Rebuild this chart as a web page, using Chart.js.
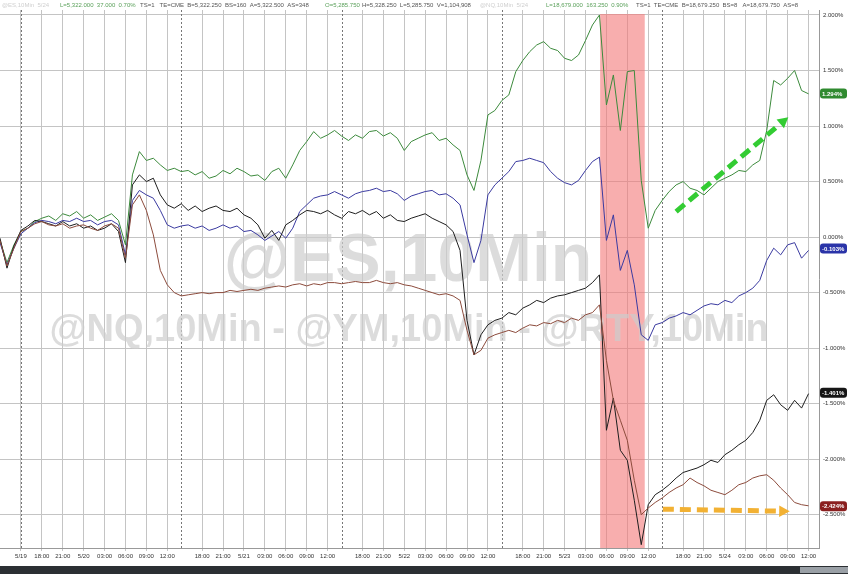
<!DOCTYPE html>
<html>
<head>
<meta charset="utf-8">
<script src="https://cdn.jsdelivr.net/npm/chart.js@4.4.1/dist/chart.umd.min.js"></script>
<style>
  html, body { margin: 0; padding: 0; background: #fff; }
  #wrap { width: 848px; height: 574px; }
</style>
</head>
<body>
<div id="wrap"><canvas id="futChart" width="848" height="574"></canvas></div>
<script>
/* --------------- Data (percent change, sampled hourly) --------------- */
const hours = Array.from({ length: 117 }, (_, i) => i);

const nqValues = [
  -0.03, -0.23, -0.07, 0.05, 0.08, 0.14, 0.17, 0.19, 0.15, 0.21, 0.19, 0.23, 0.17, 0.20, 0.15, 0.18, 0.21, 0.15, -0.07, 0.56,
  0.77, 0.69, 0.71, 0.65, 0.60, 0.62, 0.59, 0.60, 0.56, 0.59, 0.53, 0.55, 0.60, 0.57, 0.62, 0.59, 0.55, 0.56, 0.51, 0.59,
  0.62, 0.53, 0.65, 0.78, 0.86, 0.95, 0.89, 0.92, 0.96, 0.91, 0.87, 0.92, 0.89, 0.95, 0.96, 0.91, 0.94, 0.89, 0.78, 0.86,
  0.89, 0.92, 0.94, 0.87, 0.89, 0.83, 0.78, 0.56, 0.42, 0.69, 1.10, 1.14, 1.23, 1.28, 1.49, 1.59, 1.67, 1.73, 1.76, 1.70,
  1.68, 1.61, 1.59, 1.64, 1.77, 1.91, 2.00, 1.19, 1.46, 0.96, 1.49, 1.50, 0.51, 0.08, 0.24, 0.33, 0.41, 0.47, 0.50, 0.44,
  0.42, 0.38, 0.44, 0.50, 0.53, 0.56, 0.60, 0.59, 0.65, 0.69, 0.96, 1.41, 1.37, 1.43, 1.50, 1.32, 1.29
];
const esValues = [
  -0.05, -0.25, -0.10, 0.03, 0.08, 0.13, 0.15, 0.14, 0.12, 0.15, 0.14, 0.17, 0.14, 0.15, 0.11, 0.14, 0.15, 0.11, -0.16, 0.33,
  0.42, 0.38, 0.35, 0.24, 0.11, 0.08, 0.10, 0.11, 0.08, 0.10, 0.06, 0.08, 0.11, 0.08, 0.10, 0.05, 0.06, 0.02, -0.03, 0.01,
  0.05, -0.01, 0.08, 0.23, 0.29, 0.35, 0.37, 0.38, 0.41, 0.38, 0.35, 0.39, 0.41, 0.42, 0.44, 0.41, 0.42, 0.39, 0.33, 0.37,
  0.39, 0.41, 0.42, 0.38, 0.39, 0.35, 0.29, 0.02, -0.23, -0.03, 0.38, 0.47, 0.53, 0.59, 0.68, 0.69, 0.71, 0.69, 0.67, 0.59,
  0.53, 0.49, 0.47, 0.51, 0.60, 0.68, 0.72, -0.03, 0.20, -0.30, -0.12, -0.43, -0.88, -0.93, -0.79, -0.77, -0.73, -0.71, -0.68, -0.70,
  -0.66, -0.62, -0.60, -0.61, -0.57, -0.59, -0.53, -0.50, -0.46, -0.39, -0.21, -0.10, -0.16, -0.07, -0.05, -0.19, -0.12
];
const ymValues = [
  -0.01, -0.28, -0.08, 0.06, 0.10, 0.15, 0.14, 0.12, 0.10, 0.14, 0.10, 0.12, 0.08, 0.10, 0.06, 0.08, 0.12, 0.05, -0.23, 0.47,
  0.56, 0.50, 0.53, 0.38, 0.29, 0.26, 0.30, 0.24, 0.28, 0.23, 0.26, 0.28, 0.24, 0.23, 0.26, 0.20, 0.17, 0.11, -0.01, 0.06,
  -0.03, 0.11, 0.15, 0.20, 0.24, 0.23, 0.21, 0.24, 0.20, 0.17, 0.23, 0.21, 0.24, 0.20, 0.23, 0.17, 0.20, 0.15, 0.14, 0.17,
  0.19, 0.21, 0.17, 0.14, 0.11, 0.05, -0.12, -0.75, -1.06, -0.88, -0.79, -0.75, -0.73, -0.68, -0.70, -0.64, -0.61, -0.57, -0.59, -0.55,
  -0.53, -0.52, -0.50, -0.48, -0.46, -0.41, -0.34, -1.74, -1.45, -1.92, -2.01, -2.37, -2.77, -2.41, -2.32, -2.28, -2.23, -2.17, -2.12, -2.10,
  -2.08, -2.05, -2.01, -2.03, -1.96, -1.92, -1.87, -1.83, -1.76, -1.65, -1.47, -1.42, -1.51, -1.56, -1.47, -1.54, -1.41
];
const rtyValues = [
  -0.03, -0.26, -0.10, 0.05, 0.08, 0.12, 0.14, 0.11, 0.10, 0.12, 0.08, 0.10, 0.11, 0.08, 0.06, 0.10, 0.12, 0.08, -0.19, 0.29,
  0.38, 0.24, 0.02, -0.30, -0.43, -0.50, -0.53, -0.52, -0.51, -0.50, -0.51, -0.50, -0.50, -0.48, -0.49, -0.48, -0.47, -0.48, -0.46, -0.45,
  -0.44, -0.45, -0.43, -0.42, -0.44, -0.42, -0.43, -0.41, -0.41, -0.42, -0.41, -0.40, -0.41, -0.41, -0.39, -0.41, -0.42, -0.41, -0.43, -0.44,
  -0.46, -0.48, -0.50, -0.52, -0.51, -0.53, -0.57, -0.84, -1.06, -1.02, -0.91, -0.88, -0.86, -0.84, -0.86, -0.82, -0.79, -0.80, -0.77, -0.78,
  -0.75, -0.77, -0.73, -0.75, -0.70, -0.68, -0.61, -1.11, -1.47, -1.65, -1.83, -2.19, -2.50, -2.44, -2.39, -2.35, -2.30, -2.26, -2.23, -2.17,
  -2.21, -2.24, -2.28, -2.30, -2.32, -2.28, -2.23, -2.21, -2.17, -2.15, -2.14, -2.19, -2.26, -2.32, -2.39, -2.41, -2.42
];

/* --------------- Axis ticks --------------- */
const xTickHours = [3, 6, 9, 12, 15, 18, 21, 24, 29, 32, 35, 38, 41, 44, 47, 52, 55, 58, 61, 64, 67, 70,
  75, 78, 81, 84, 87, 90, 93, 98, 101, 104, 107, 110, 113, 116];
const xTickLabels = ["5/19", "18:00", "21:00", "5/20", "03:00", "06:00", "09:00", "12:00",
  "18:00", "21:00", "5/21", "03:00", "06:00", "09:00", "12:00",
  "18:00", "21:00", "5/22", "03:00", "06:00", "09:00", "12:00",
  "18:00", "21:00", "5/23", "03:00", "06:00", "09:00", "12:00",
  "18:00", "21:00", "5/24", "03:00", "06:00", "09:00", "12:00"];
const sessionBreaks = [3, 26, 49, 72, 95];
const yTicks = [-2.5, -2.0, -1.5, -1.0, -0.5, 0, 0.5, 1.0, 1.5, 2.0];

/* --------------- Annotations --------------- */
const shadeFrom = 86.1, shadeTo = 92.5;
const lastLabels = [
  { value: 1.294, color: "#2f8a2f" },
  { value: -0.103, color: "#2a34a8" },
  { value: -1.401, color: "#161616" },
  { value: -2.424, color: "#8a1f1f" },
];
const greenArrow = { x0: 97.0, y0: 0.23, x1: 113.1, y1: 1.08, color: "#33cc33" };
const yellowArrow = { x0: 95.1, y0: -2.45, x1: 113.3, y1: -2.47, color: "#f2b133" };

/* --------------- Plugins --------------- */
const backdrop = {
  id: "backdrop",
  beforeDatasetsDraw(chart) {
    const { ctx, chartArea: a, scales: { x, y } } = chart;
    ctx.save();
    // red shaded zone
    ctx.fillStyle = "rgba(244, 120, 120, 0.6)";
    const sx0 = x.getPixelForValue(shadeFrom), sx1 = x.getPixelForValue(shadeTo);
    ctx.fillRect(sx0, a.top + 4, sx1 - sx0, a.bottom - a.top - 4);
    // session breaks
    ctx.strokeStyle = "#777";
    ctx.lineWidth = 1;
    ctx.setLineDash([2, 2]);
    sessionBreaks.forEach((h) => {
      const px = Math.round(x.getPixelForValue(h)) + 0.5;
      ctx.beginPath();
      ctx.moveTo(px, a.top);
      ctx.lineTo(px, a.bottom);
      ctx.stroke();
    });
    ctx.setLineDash([]);
    // watermark
    ctx.fillStyle = "rgba(205, 205, 205, 0.7)";
    ctx.textBaseline = "middle";
    ctx.textAlign = "center";
    ctx.font = "bold 68px 'Liberation Sans', Arial, sans-serif";
    ctx.fillText("@ES,10Min", 408, 262);
    ctx.font = "bold 38px 'Liberation Sans', Arial, sans-serif";
    ctx.fillText("@NQ,10Min - @YM,10Min - @RTY,10Min", 409, 331);
    ctx.restore();
  },
  afterDatasetsDraw(chart) {
    const { ctx, scales: { x, y } } = chart;
    ctx.save();
    [greenArrow, yellowArrow].forEach((ar) => {
      const x0 = x.getPixelForValue(ar.x0), y0 = y.getPixelForValue(ar.y0);
      const x1 = x.getPixelForValue(ar.x1), y1 = y.getPixelForValue(ar.y1);
      const ang = Math.atan2(y1 - y0, x1 - x0);
      const head = 12;
      ctx.strokeStyle = ar.color;
      ctx.lineWidth = 5;
      ctx.setLineDash([11, 6]);
      ctx.beginPath();
      ctx.moveTo(x0, y0);
      ctx.lineTo(x1 - head * Math.cos(ang), y1 - head * Math.sin(ang));
      ctx.stroke();
      ctx.setLineDash([]);
      ctx.fillStyle = ar.color;
      ctx.beginPath();
      ctx.moveTo(x1, y1);
      ctx.lineTo(x1 - head * Math.cos(ang - 0.5), y1 - head * Math.sin(ang - 0.5));
      ctx.lineTo(x1 - head * Math.cos(ang + 0.5), y1 - head * Math.sin(ang + 0.5));
      ctx.closePath();
      ctx.fill();
    });
    // last value badges
    ctx.font = "bold 6px 'Liberation Sans', Arial, sans-serif";
    ctx.textBaseline = "middle";
    ctx.textAlign = "left";
    lastLabels.forEach((b) => {
      const py = y.getPixelForValue(b.value);
      ctx.fillStyle = b.color;
      ctx.beginPath();
      ctx.roundRect(820, py - 5, 27, 10, 3);
      ctx.fill();
      ctx.fillStyle = "#fff";
      ctx.fillText(b.value.toFixed(3) + "%", 822, py + 0.5);
    });
    ctx.restore();
  },
  afterDraw(chart) {
    const { ctx } = chart;
    ctx.save();
    ctx.font = "6px 'Liberation Sans', Arial, sans-serif";
    ctx.textBaseline = "middle";
    ctx.textAlign = "left";
    const header = [
      [2, "@ES,10Min  5/24", "#cfcfcf"],
      [60, "L=5,322.000  37.000  0.70%", "#5aa05a"],
      [140, "TS=1   TE=CME  B=5,322.250  BS=160  A=5,322.500  AS=348", "#555"],
      [325, "O=5,285.750", "#5aa05a"],
      [362, "H=5,328.250  L=5,285.750  V=1,104,908", "#555"],
      [480, "@NQ,10Min  5/24", "#cfcfcf"],
      [546, "L=18,679.000  163.250  0.90%", "#5aa05a"],
      [636, "TS=1  TE=CME  B=18,679.250  BS=8   A=18,679.750  AS=8", "#555"],
    ];
    header.forEach(([hx, t, c]) => {
      ctx.fillStyle = c;
      ctx.fillText(t, hx, 5);
    });
    // bottom bar
    ctx.fillStyle = "#2b2f33";
    ctx.fillRect(0, 566, 848, 8);
    ctx.fillStyle = "#9aa0a6";
    ctx.fillRect(800, 567, 48, 6);
    ctx.restore();
  },
};

/* --------------- Chart --------------- */
const lineSet = (label, data, color) => ({
  label,
  data: data.map((v, i) => ({ x: hours[i], y: v })),
  borderColor: color,
  borderWidth: 1,
  pointRadius: 0,
  tension: 0,
});

new Chart(document.getElementById("futChart"), {
  type: "line",
  data: {
    datasets: [
      lineSet("RTY", rtyValues, "#8c4b3c"),
      lineSet("YM", ymValues, "#1e1e1e"),
      lineSet("ES", esValues, "#3a3aa0"),
      lineSet("NQ", nqValues, "#3c8a3c"),
    ],
  },
  plugins: [backdrop],
  options: {
    responsive: false,
    animation: false,
    layout: { padding: { top: 10, left: 0, right: 0, bottom: 0 } },
    plugins: { legend: { display: false }, tooltip: { enabled: false } },
    scales: {
      x: {
        type: "linear",
        min: 0,
        max: 117.5,
        afterBuildTicks: (s) => { s.ticks = xTickHours.map((v) => ({ value: v })); },
        afterFit: (s) => { s.height = 26; },
        ticks: {
          autoSkip: false,
          maxRotation: 0,
          padding: 2,
          color: "#333",
          font: { size: 6, family: "'Liberation Sans', Arial, sans-serif" },
          callback: (v, i) => xTickLabels[i],
        },
        grid: { color: "#c4c4c4", tickLength: 3 },
        border: { color: "#999" },
      },
      y: {
        position: "right",
        min: -2.8,
        max: 2.045,
        afterBuildTicks: (s) => { s.ticks = yTicks.map((v) => ({ value: v })); },
        afterFit: (s) => { s.width = 29; },
        ticks: {
          padding: 4,
          color: "#333",
          font: { size: 6, family: "'Liberation Sans', Arial, sans-serif" },
          callback: (v) => v.toFixed(3) + "%",
        },
        grid: { color: "#c4c4c4", drawTicks: false },
        border: { color: "#999" },
      },
    },
  },
});
</script>
</body>
</html>
